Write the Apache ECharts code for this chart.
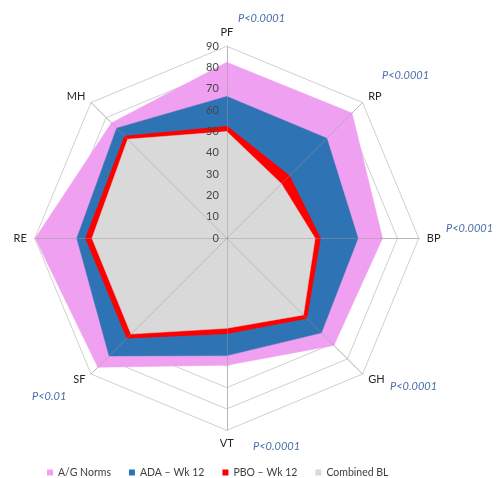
<!DOCTYPE html>
<html>
<head>
<meta charset="utf-8">
<script src="https://cdn.jsdelivr.net/npm/echarts@6/dist/echarts.min.js"></script>
<style>
html,body{margin:0;padding:0;background:#fff;}
#chart{width:499px;height:478px;}
</style>
</head>
<body>
<div id="chart"></div>
<script>
// Indicators in counter-clockwise order starting from top (ECharts radar layout)
const indicatorNames = ['PF', 'MH', 'RE', 'SF', 'VT', 'GH', 'BP', 'RP'];
const seriesNames = ['A/G Norms', 'ADA \u2013 Wk 12', 'PBO \u2013 Wk 12', 'Combined BL'];
const agNorms    = [82.5, 76.5, 89.8, 85.5, 59.5, 71, 73, 83];
const adaWk12    = [66.5, 73, 70.3, 78, 55, 62.7, 61.5, 66.3];
const pboWk12    = [52.3, 67.5, 66, 66, 44.5, 52.8, 43.7, 41.3];
const combinedBL = [50, 65.7, 63.2, 63.5, 42.2, 50.8, 41.4, 36.2];
const pLabels = [
  {text: 'P<0.0001', x: 238, y: 13},
  {text: 'P<0.0001', x: 382, y: 70},
  {text: 'P<0.0001', x: 446, y: 223},
  {text: 'P<0.0001', x: 390, y: 381},
  {text: 'P<0.0001', x: 253, y: 441},
  {text: 'P<0.01',   x: 32,  y: 391}
];
const colors = ['#f0a0f0', '#2e74b5', '#ff0000', '#d9d9d9'];
const seriesData = [agNorms, adaWk12, pboWk12, combinedBL];

const FONT = 'Lato, "Open Sans", sans-serif';
const center = ['45.45%', '49.85%'];
const radius = 192;

const indicators = indicatorNames.map(n => ({name: n, min: 0, max: 90}));
const indicators2 = indicatorNames.map((n, i) => {
  const o = {name: n, min: 0, max: 90};
  if (i === 0) o.axisLabel = {show: true};
  return o;
});

const chart = echarts.init(document.getElementById('chart'), null, {renderer: 'canvas'});
chart.setOption({
  backgroundColor: '#fff',
  animation: false,
  legend: {
    bottom: 0,
    left: 47,
    padding: 0,
    icon: 'rect',
    itemWidth: 6,
    itemHeight: 6,
    itemGap: 18,
    textStyle: {fontFamily: FONT, fontSize: 10.5, color: '#404040'},
    data: seriesNames
  },
  radar: [
    {
      indicator: indicators,
      center: center,
      radius: radius,
      shape: 'polygon',
      splitNumber: 9,
      startAngle: 90,
      z: 1,
      axisName: {color: '#262626', fontFamily: FONT, fontSize: 11},
      nameGap: 8,
      splitLine: {lineStyle: {color: '#d0d0d0', width: 1}},
      splitArea: {show: false},
      axisLine: {lineStyle: {color: '#d0d0d0', width: 1}},
      axisTick: {show: false},
      axisLabel: {show: false}
    },
    {
      indicator: indicators2,
      center: center,
      radius: radius,
      shape: 'polygon',
      splitNumber: 9,
      startAngle: 90,
      z: 5,
      axisName: {show: false},
      splitLine: {show: false},
      splitArea: {show: false},
      axisLine: {lineStyle: {color: 'rgba(150,150,150,0.45)', width: 1}},
      axisTick: {show: false},
      axisLabel: {show: false, fontFamily: FONT, fontSize: 11, color: '#454545', margin: 8}
    }
  ],
  series: seriesNames.map((name, i) => ({
    name: name,
    type: 'radar',
    radarIndex: 0,
    symbol: 'none',
    silent: true,
    z: 2,
    itemStyle: {color: colors[i]},
    lineStyle: {color: colors[i], width: i === 2 ? 1.5 : 0.5},
    areaStyle: {color: colors[i], opacity: 1},
    data: [{name: name, value: seriesData[i]}]
  })),
  graphic: pLabels.map(p => ({
    type: 'text',
    left: p.x,
    top: p.y,
    z: 10,
    style: {
      text: p.text,
      fill: '#4a6ea8',
      font: 'italic 11px ' + FONT
    }
  }))
});
</script>
</body>
</html>
